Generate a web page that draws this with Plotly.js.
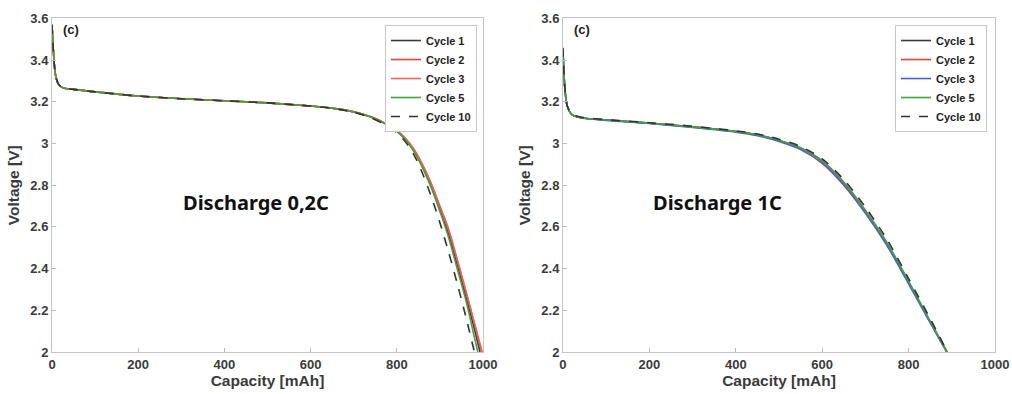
<!DOCTYPE html>
<html><head><meta charset="utf-8">
<script src="https://cdn.plot.ly/plotly-3.0.1.min.js"></script>
<style>html,body{margin:0;padding:0;background:#fff}#chart{width:1012px;height:394px}</style>
</head><body><div id="chart"></div>
<script>
// ---- Discharge 0,2C (left) ----
const capL_c1  = [0,3,8,15,25,50,100,200,300,400,500,600,650,700,740,770,800,820,840,860,880,900,920,940,960,980,993];
const voltL_c1 = [3.57,3.45,3.33,3.285,3.268,3.26,3.248,3.228,3.215,3.205,3.195,3.18,3.17,3.152,3.127,3.099,3.06,3.02,2.965,2.89,2.795,2.68,2.565,2.42,2.27,2.11,2.0];
const capL_c2  = [0,3,8,15,25,50,100,200,300,400,500,600,650,700,740,770,800,820,840,860,880,900,920,940,960,980,997];
const voltL_c2 = [3.57,3.45,3.33,3.285,3.268,3.26,3.248,3.228,3.215,3.205,3.195,3.18,3.17,3.152,3.128,3.1,3.062,3.024,2.97,2.895,2.805,2.695,2.585,2.44,2.29,2.135,2.0];
const capL_c3  = [0,3,8,15,25,50,100,200,300,400,500,600,650,700,740,770,800,820,840,860,880,900,920,940,960,980,998];
const voltL_c3 = [3.57,3.45,3.33,3.285,3.268,3.26,3.248,3.228,3.215,3.205,3.195,3.18,3.17,3.152,3.128,3.1,3.063,3.025,2.972,2.898,2.808,2.70,2.59,2.445,2.295,2.14,2.0];
const capL_c5  = [0,3,8,15,25,50,100,200,300,400,500,600,650,700,740,770,800,820,840,860,880,900,920,940,960,980,988];
const voltL_c5 = [3.57,3.45,3.33,3.285,3.268,3.26,3.248,3.228,3.215,3.205,3.195,3.18,3.17,3.152,3.127,3.098,3.058,3.018,2.96,2.882,2.787,2.675,2.55,2.40,2.25,2.07,2.0];
const capL_c10 = [0,3,8,15,25,50,100,200,300,400,500,600,650,700,740,770,800,820,840,860,880,900,920,940,960,980];
const voltL_c10= [3.57,3.45,3.33,3.285,3.268,3.26,3.248,3.228,3.215,3.205,3.195,3.18,3.169,3.15,3.124,3.094,3.052,3.008,2.945,2.855,2.745,2.62,2.48,2.33,2.17,2.0];

// ---- Discharge 1C (right) ----
const capR_c1  = [0,2,5,10,20,40,100,200,300,400,450,500,550,600,650,700,750,800,850,889];
const voltR_c1 = [3.45,3.35,3.25,3.18,3.14,3.125,3.113,3.098,3.08,3.058,3.042,3.015,2.978,2.915,2.81,2.675,2.52,2.335,2.145,2.0];
const capR_c2  = [0,2,5,10,20,40,100,200,300,400,450,500,550,600,650,700,750,800,850,889];
const voltR_c2 = [3.45,3.35,3.25,3.18,3.14,3.125,3.113,3.098,3.08,3.058,3.042,3.015,2.977,2.913,2.808,2.673,2.518,2.333,2.144,2.0];
const capR_c3  = [0,2,5,10,20,40,100,200,300,400,450,500,550,600,650,700,750,800,850,888];
const voltR_c3 = [3.45,3.35,3.25,3.18,3.14,3.124,3.111,3.096,3.077,3.055,3.038,3.01,2.971,2.905,2.8,2.665,2.51,2.327,2.14,2.0];
const capR_c5  = [0,2,5,10,20,40,100,200,300,400,450,500,550,600,650,700,750,800,850,889];
const voltR_c5 = [3.45,3.35,3.25,3.18,3.14,3.125,3.113,3.098,3.08,3.058,3.042,3.016,2.98,2.918,2.815,2.68,2.525,2.34,2.148,2.0];
const capR_c10 = [0,2,5,10,20,40,100,200,300,400,450,500,550,600,650,700,750,800,850,890];
const voltR_c10= [3.46,3.35,3.25,3.18,3.142,3.127,3.115,3.1,3.083,3.061,3.046,3.021,2.986,2.927,2.827,2.695,2.54,2.352,2.16,2.0];

const names = ['Cycle 1','Cycle 2','Cycle 3','Cycle 5','Cycle 10'];
const xTicks = [0,200,400,600,800,1000];
const yTicks = [2,2.2,2.4,2.6,2.8,3,3.2,3.4,3.6];

const colL = ['#3a3a3a','#e8413c','#f06058','#3fa33f','#333333'];
const colR = ['#3a3a3a','#e8413c','#4a5fd6','#3fa33f','#333333'];

function tr(x,y,name,color,dash,xa,ya,leg){
  return {x:x,y:y,name:name,type:'scatter',mode:'lines',xaxis:xa,yaxis:ya,legend:leg,
    line:{color:color,width:1.6,dash:dash,shape:'spline',smoothing:0.8}};
}
const L = [[capL_c1,voltL_c1],[capL_c2,voltL_c2],[capL_c3,voltL_c3],[capL_c5,voltL_c5],[capL_c10,voltL_c10]];
const R = [[capR_c1,voltR_c1],[capR_c2,voltR_c2],[capR_c3,voltR_c3],[capR_c5,voltR_c5],[capR_c10,voltR_c10]];
const data = [];
L.forEach((d,i)=>data.push(tr(d[0],d[1],names[i],colL[i],i===4?'dash':'solid','x','y','legend')));
R.forEach((d,i)=>data.push(tr(d[0],d[1],names[i],colR[i],i===4?'dash':'solid','x2','y2','legend2')));

const tickFont = {family:'Liberation Sans, Arial, sans-serif',size:13,color:'#3a3a3a',weight:'bold'};
const titleFont = {family:'Liberation Sans, Arial, sans-serif',size:15.5,color:'#3a3a3a',weight:'bold'};
function xax(dom){return {domain:dom,range:[0,1000],tickvals:xTicks,ticktext:xTicks.map(String),ticks:'inside',ticklen:4,tickcolor:'#bdbdbd',
  showline:true,linecolor:'#c4c4c4',linewidth:1,mirror:true,showgrid:false,zeroline:false,tickfont:tickFont,
  title:{text:'Capacity [mAh]',font:titleFont,standoff:3}};}
function yax(anchor){return {domain:[0.1066,0.9531],range:[2,3.6],anchor:anchor,tickvals:yTicks,ticktext:yTicks.map(String),ticks:'inside',ticklen:4,tickcolor:'#bdbdbd',
  showline:true,linecolor:'#c4c4c4',linewidth:1,mirror:true,showgrid:false,zeroline:false,tickfont:tickFont,
  title:{text:'Voltage [V]',font:titleFont,standoff:6}};}
const legFont = {family:'Liberation Sans, Arial, sans-serif',size:11,color:'#222',weight:'bold'};
const layout = {
  width:1012,height:394,margin:{l:0,r:0,t:0,b:0},paper_bgcolor:'#fff',plot_bgcolor:'#fff',showlegend:true,
  xaxis:Object.assign(xax([0.0514,0.4773]),{anchor:'y'}),
  yaxis:yax('x'),
  xaxis2:Object.assign(xax([0.5563,0.9832]),{anchor:'y2'}),
  yaxis2:yax('x2'),
  legend:{x:0.4713,y:0.9365,xanchor:'right',yanchor:'top',bgcolor:'#fff',bordercolor:'#c8c8c8',borderwidth:1,
    font:legFont,tracegroupgap:0,itemwidth:30},
  legend2:{x:0.9753,y:0.9365,xanchor:'right',yanchor:'top',bgcolor:'#fff',bordercolor:'#c8c8c8',borderwidth:1,
    font:legFont,tracegroupgap:0,itemwidth:30},
  annotations:[
    {text:'(c)',xref:'x domain',yref:'y domain',x:0.02,y:0.995,xanchor:'left',yanchor:'top',showarrow:false,
     font:{family:'Liberation Sans, Arial, sans-serif',size:13,color:'#222',weight:'bold'}},
    {text:'(c)',xref:'x2 domain',yref:'y2 domain',x:0.02,y:0.995,xanchor:'left',yanchor:'top',showarrow:false,
     font:{family:'Liberation Sans, Arial, sans-serif',size:13,color:'#222',weight:'bold'}},
    {text:'Discharge 0,2C',xref:'paper',yref:'paper',x:256/1012,y:(394-203)/394,xanchor:'center',yanchor:'middle',showarrow:false,
     font:{family:'Noto Sans, Open Sans, sans-serif',size:20,color:'#111',weight:'bold'}},
    {text:'Discharge 1C',xref:'paper',yref:'paper',x:717/1012,y:(394-203)/394,xanchor:'center',yanchor:'middle',showarrow:false,
     font:{family:'Noto Sans, Open Sans, sans-serif',size:20,color:'#111',weight:'bold'}}
  ]
};
Plotly.newPlot('chart',data,layout,{displayModeBar:false,staticPlot:true});
</script></body></html>
